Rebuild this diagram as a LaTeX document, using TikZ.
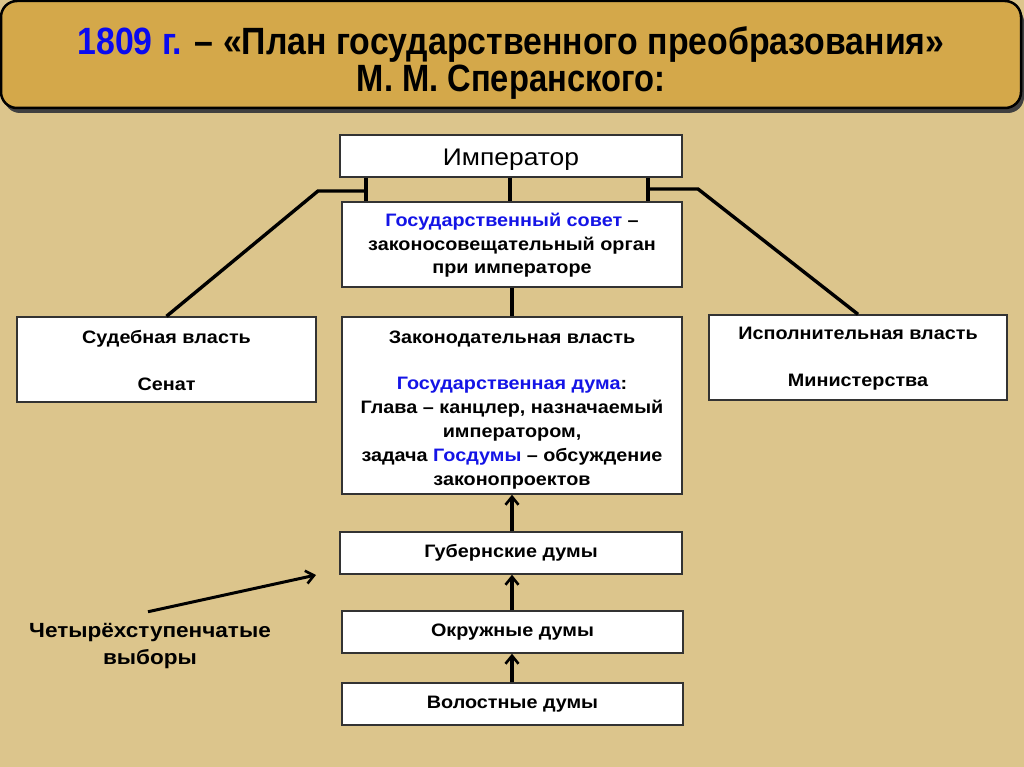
\documentclass[tikz,border=0pt]{standalone}
\usepackage{fontspec}
\setmainfont{Liberation Sans}[FakeStretch=1.1]
\newfontfamily\titlefont{Liberation Sans}
\usetikzlibrary{arrows.meta}
\definecolor{parch}{RGB}{220,197,140}
\definecolor{gold}{RGB}{212,168,74}
\definecolor{tblue}{RGB}{20,20,230}
\definecolor{hblue}{RGB}{10,10,240}
\tikzset{
  box/.style={draw=black!80, line width=1.4pt, fill=white, inner sep=0pt, align=center, font=\fontsize{18}{23.8}\selectfont\bfseries},
  conn/.style={line width=3.4pt, black},
  up/.style={line width=3.4pt, black, -{Straight Barb[length=8pt,width=13pt,line width=2.6pt]}},
}
\begin{document}
\begin{tikzpicture}[x=1pt,y=-1pt]
\useasboundingbox (0,0) rectangle (1024,767);
\fill[parch] (0,0) rectangle (1024,767);
% header
\fill[black!75, rounded corners=16pt] (4,6) rectangle (1024,113);
\draw[fill=gold, line width=2.5pt, rounded corners=16pt] (1,1) rectangle (1021,108);
\node[font=\titlefont\fontsize{38}{37}\selectfont\bfseries, align=center] (title) at (511,63)
  {\scalebox{0.89}[1]{\textcolor{hblue}{1809 г.} – «План государственного преобразования»}\\[0pt]
   \scalebox{0.86}[1]{М. М. Сперанского:}};
% boxes
\node[box, minimum width=342pt, minimum height=42pt, font=\fontsize{24}{26}\selectfont] (imp) at (511,156) {\rule{0pt}{24pt}Император};
\node[box, minimum width=340pt, minimum height=85pt] (gs) at (512,244.5)
  {\rule{0pt}{15pt}\textcolor{tblue}{Государственный совет} –\\ законосовещательный орган\\ при императоре};
\node[box, minimum width=299pt, minimum height=85pt] (sud) at (166.5,359.5)
  {\rule{0pt}{15pt}Судебная власть\\[23pt] Сенат};
\node[box, minimum width=298pt, minimum height=85pt] (isp) at (858,357.5)
  {\rule{0pt}{15pt}Исполнительная власть\\[23pt] Министерства};
\node[box, minimum width=340pt, minimum height=177pt] (zak) at (512,405.5)
  {\rule{0pt}{21pt}Законодательная власть\\[23pt]
   \textcolor{tblue}{Государственная дума}:\\
   Глава – канцлер, назначаемый\\
   императором,\\
   задача \textcolor{tblue}{Госдумы} – обсуждение\\
   законопроектов};
\node[box, minimum width=342pt, minimum height=42pt] (gub) at (511,553) {Губернские думы};
\node[box, minimum width=341pt, minimum height=42pt] (okr) at (512.5,632) {Окружные думы};
\node[box, minimum width=341pt, minimum height=42pt] (vol) at (512.5,704) {Волостные думы};
\node[font=\fontsize{20.5}{27}\selectfont\bfseries, align=center] (vyb) at (150,646) {Четырёхступенчатые\\ выборы};
% connectors
\draw[conn] ([xshift=-145pt]imp.south) -- ([xshift=-145pt]imp.south |- gs.north);
\draw[conn] ([xshift=-1pt]imp.south) -- ([xshift=-1pt]imp.south |- gs.north);
\draw[conn] ([xshift=137pt]imp.south) -- ([xshift=137pt]imp.south |- gs.north);
\coordinate (la) at (366,191);
\coordinate (lb) at (318,191);
\coordinate (ra) at (648,189);
\coordinate (rb) at (698,189);
\draw[conn] (la) -- (lb) -- (sud.north);
\draw[conn] (ra) -- (rb) -- (isp.north);
\draw[conn] (gs.south) -- (zak.north);
\draw[up] (zak.south |- gub.north) -- (zak.south);
\draw[up] ([xshift=-0.5pt]okr.north) -- ([xshift=-0.5pt]okr.north |- gub.south);
\draw[up] ([xshift=-0.5pt]vol.north) -- ([xshift=-0.5pt]vol.north |- okr.south);
\coordinate (ve) at (316,575);
\draw[up, line width=3pt] ([xshift=-2pt,yshift=8pt]vyb.north) -- (ve);
\end{tikzpicture}
\end{document}
